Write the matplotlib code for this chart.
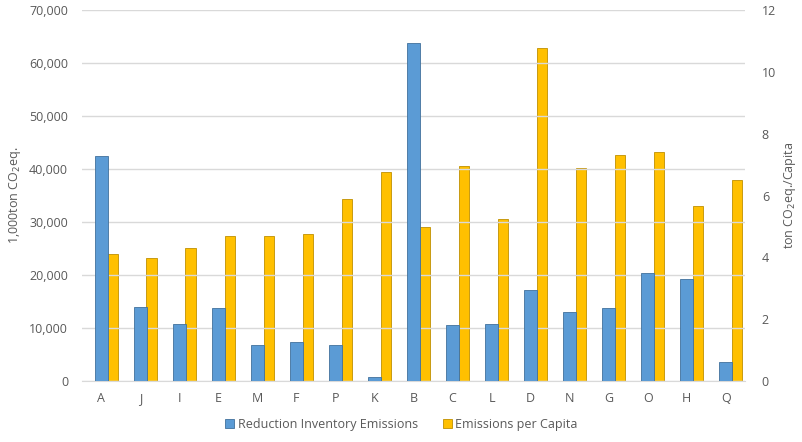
import numpy as np
import matplotlib.pyplot as plt

plt.rcParams['font.family'] = ['Open Sans', 'DejaVu Sans']

categories = ['A', 'J', 'I', 'E', 'M', 'F', 'P', 'K', 'B', 'C', 'L', 'D', 'N', 'G', 'O', 'H', 'Q']
reduction = [42450, 14000, 10700, 13800, 6800, 7300, 6800, 750, 63800, 10600,
             10800, 17100, 13000, 13800, 20300, 19200, 3600]
per_capita = [4.10, 3.97, 4.30, 4.70, 4.70, 4.76, 5.89, 6.77, 4.99, 6.96,
              5.25, 10.76, 6.89, 7.30, 7.41, 5.66, 6.49]

blue = '#5B9BD5'
yellow = '#FFC000'
txt = '#595959'

fig = plt.figure(figsize=(8.03, 4.42), dpi=100)
ax = fig.add_axes([0.102, 0.138, 0.826, 0.839])
ax2 = ax.twinx()

x = np.arange(len(categories))
b1 = ax.bar(x, reduction, width=0.33, color=blue, edgecolor='#41719C', linewidth=0.6,
            zorder=3, label='Reduction Inventory Emissions')
b2 = ax2.bar(x + 0.29, per_capita, width=0.27, color=yellow, edgecolor='#BF9000', linewidth=0.6,
             zorder=2, label='Emissions per Capita')

ax.set_ylim(0, 70000)
ax.set_yticks(range(0, 70001, 10000))
ax.set_yticklabels([f'{v:,}' for v in range(0, 70001, 10000)])
ax2.set_ylim(0, 12)
ax2.set_yticks(range(0, 13, 2))
ax.set_xlim(-0.5, len(categories) - 0.5)
ax.set_xticks(x)
ax.set_xticklabels(categories)

ax.grid(axis='y', color='#D9D9D9', linewidth=1)
ax.set_axisbelow(True)
for a in (ax, ax2):
    for s in a.spines.values():
        s.set_visible(False)
    a.tick_params(length=0, colors=txt, labelsize=9)
ax.spines['bottom'].set_visible(True)
ax.spines['bottom'].set_color('#D9D9D9')
ax.tick_params(axis='x', pad=8)
ax.tick_params(axis='y', pad=10)
ax2.tick_params(axis='y', pad=12)

ax.set_ylabel('1,000ton CO$_2$eq.', color=txt, fontsize=9)
ax2.set_ylabel('ton CO$_2$eq./Capita', color=txt, fontsize=9, rotation=90, labelpad=4)

# put blue above yellow
ax.set_zorder(ax2.get_zorder() + 1)
ax.patch.set_visible(False)

fig.legend([b1, b2], ['Reduction Inventory Emissions', 'Emissions per Capita'],
           loc='lower center', bbox_to_anchor=(0.5, 0.0), ncol=2, frameon=False,
           fontsize=9, handlelength=0.7, handleheight=0.7, columnspacing=2.0,
           handletextpad=0.3, labelcolor=txt)

fig.savefig('out.png', dpi=100)
